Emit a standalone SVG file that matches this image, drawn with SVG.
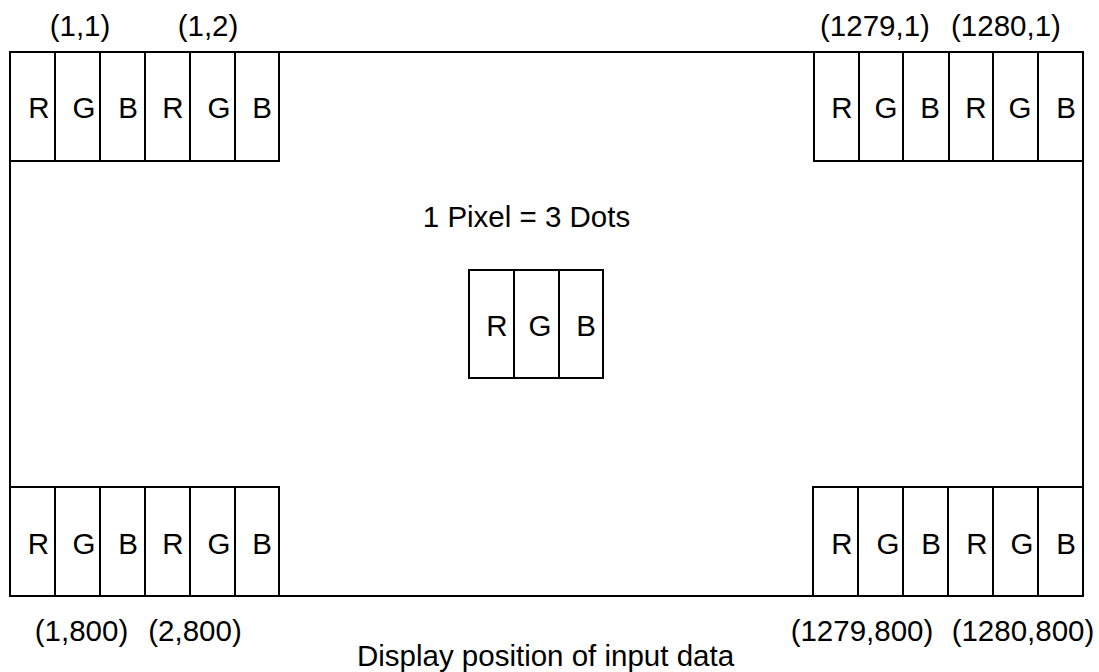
<svg xmlns="http://www.w3.org/2000/svg" width="1099" height="672" viewBox="0 0 1099 672">
<style>
.ln{fill:none;stroke:#000;stroke-width:2;stroke-linecap:square}
.t{font-family:"Liberation Sans","Arial",sans-serif;font-size:29.5px;fill:#000;text-anchor:middle}
</style>
<rect width="1099" height="672" fill="#fff"/>
<g id="frame">
<rect class="ln" x="10" y="52" width="1073" height="544"/>
</g>
<g id="top-left">
<rect class="ln" x="10" y="52" width="269" height="109"/>
<path class="ln" d="M55 52V161M100 52V161M145 52V161M190 52V161M235 52V161"/>
<text class="t" x="39" y="118">R</text><text class="t" x="84" y="118">G</text><text class="t" x="128" y="118">B</text>
<text class="t" x="173" y="118">R</text><text class="t" x="219" y="118">G</text><text class="t" x="262" y="118">B</text>
</g>
<g id="top-right">
<rect class="ln" x="814" y="52" width="269" height="109"/>
<path class="ln" d="M859 52V161M903 52V161M949 52V161M993 52V161M1038 52V161"/>
<text class="t" x="842" y="118">R</text><text class="t" x="886" y="118">G</text><text class="t" x="930" y="118">B</text>
<text class="t" x="976" y="118">R</text><text class="t" x="1020" y="118">G</text><text class="t" x="1066" y="118">B</text>
</g>
<g id="bottom-left">
<rect class="ln" x="10" y="487" width="269" height="109"/>
<path class="ln" d="M55 487V596M100 487V596M145 487V596M190 487V596M235 487V596"/>
<text class="t" x="38.5" y="554">R</text><text class="t" x="84" y="554">G</text><text class="t" x="128" y="554">B</text>
<text class="t" x="173" y="554">R</text><text class="t" x="219" y="554">G</text><text class="t" x="262" y="554">B</text>
</g>
<g id="bottom-right">
<rect class="ln" x="813" y="487" width="270" height="109"/>
<path class="ln" d="M858 487V596M903 487V596M948 487V596M993 487V596M1038 487V596"/>
<text class="t" x="842" y="554">R</text><text class="t" x="888" y="554">G</text><text class="t" x="931" y="554">B</text>
<text class="t" x="977" y="554">R</text><text class="t" x="1022" y="554">G</text><text class="t" x="1066" y="554">B</text>
</g>
<g id="pixel">
<rect class="ln" x="469" y="270" width="134" height="108"/>
<path class="ln" d="M514 270V378M559 270V378"/>
<text class="t" x="497" y="336">R</text><text class="t" x="540" y="336">G</text><text class="t" x="586" y="336">B</text>
</g>
<g id="labels">
<text class="t" x="80" y="36">(1,1)</text>
<text class="t" x="208" y="36">(1,2)</text>
<text class="t" x="875" y="36">(1279,1)</text>
<text class="t" x="1006" y="36">(1280,1)</text>
<text class="t" x="526.5" y="227">1 Pixel = 3 Dots</text>
<text class="t" x="81.5" y="641">(1,800)</text>
<text class="t" x="195" y="641">(2,800)</text>
<text class="t" x="862" y="641">(1279,800)</text>
<text class="t" x="1023" y="641">(1280,800)</text>
<text class="t" x="545.5" y="666">Display position of input data</text>
</g>
<g id="connectors"></g>
</svg>
